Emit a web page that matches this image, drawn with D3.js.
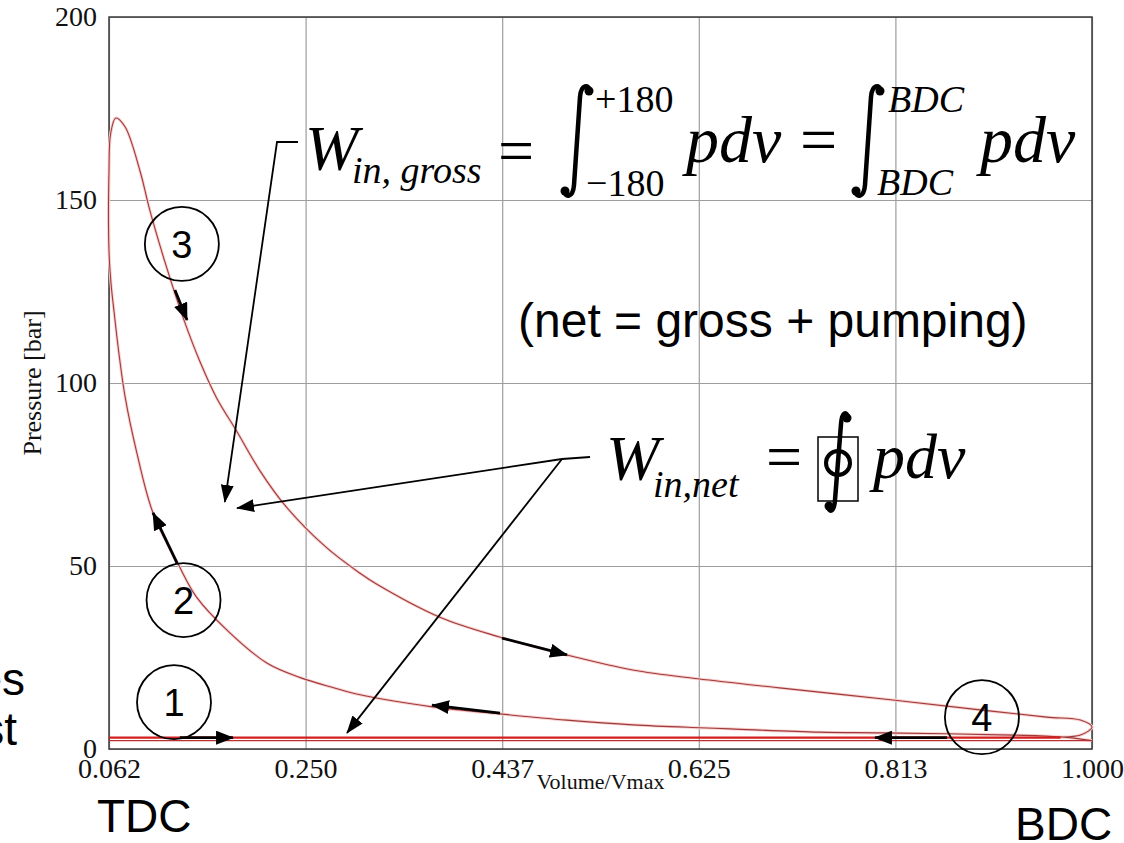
<!DOCTYPE html>
<html>
<head>
<meta charset="utf-8">
<script src="https://cdnjs.cloudflare.com/ajax/libs/d3/7.8.5/d3.min.js"></script>
<style>
body { margin: 0; background: #ffffff; }
</style>
</head>
<body>
<div id="chart"></div>
<script>
// axis ticks
var xTickValues = [0.0625, 0.25, 0.4375, 0.625, 0.8125, 1.0];
var xTickLabels = ['0.062', '0.250', '0.437', '0.625', '0.813', '1.000'];
var yTickValues = [0, 50, 100, 150, 200];

// p-V loop (volume / Vmax, pressure in bar)
var compressionV = [1.0, 0.97, 0.925, 0.80, 0.74, 0.655, 0.626, 0.562, 0.499, 0.435, 0.371, 0.302, 0.276, 0.245, 0.213, 0.175, 0.146, 0.128, 0.1045, 0.089, 0.078, 0.072, 0.0675, 0.0645, 0.0625];
var compressionP = [2.3, 3.3, 3.8, 4.4, 4.6, 5.5, 5.8, 6.6, 7.9, 9.6, 11.5, 14.8, 16.8, 19.5, 23.5, 32.5, 41.5, 50.8, 64.5, 81, 96, 108, 119, 127, 136];
var expansionV = [0.0625, 0.064, 0.069, 0.0778, 0.092, 0.1016, 0.117, 0.133, 0.149, 0.165, 0.185, 0.2065, 0.232, 0.270, 0.302, 0.318, 0.378, 0.435, 0.499, 0.562, 0.624, 0.702, 0.810, 0.893, 0.957, 0.989, 1.0];
var expansionP = [158, 168, 172.4, 170, 158, 147, 132, 118, 106, 96, 86.5, 76, 66, 55, 48, 45, 36, 30.6, 25.7, 21.6, 19.2, 16.7, 13.4, 10.7, 8.7, 7.9, 6.0];
var blowdownV = [0.989, 0.97];
var blowdownP = [3.8, 3.3];
var exhaustV = [0.97, 0.0625];
var exhaustP = [3.1, 3.1];
var intakeV = [0.0625, 1.0];
var intakeP = [2.3, 2.3];

// stroke labels: number, volume, pressure
var stageLabels = ['1', '2', '3', '4'];
var stageV = [0.1245, 0.1336, 0.132, 0.895];
var stageP = [12.8, 40.7, 138, 8.7];

// direction arrows along the loop: from (v0, p0) to tip (v1, p1)
var flowFromV = [0.130, 0.1274, 0.1254, 0.4373, 0.4354, 0.8617];
var flowFromP = [3.1, 50.8, 125.4, 30.3, 9.8, 3.1];
var flowToV = [0.1808, 0.1045, 0.1369, 0.4993, 0.3706, 0.793];
var flowToP = [3.1, 64.5, 117.2, 25.7, 12.0, 3.1];

// where the formula pointers land
var grossTipV = [0.173];
var grossTipP = [67.5];
var netTipV = [0.1846, 0.2895];
var netTipP = [65.8, 4.4];

var width = 1124;
var height = 843;
var plot = { left: 109, right: 1092, top: 17, bottom: 749 };

var serif = '"Liberation Serif", "Times New Roman", serif';
var sans = '"Liberation Sans", Arial, sans-serif';

var svg = d3.select('#chart').append('svg')
    .attr('width', width)
    .attr('height', height)
    .style('background', '#ffffff');

var x = d3.scaleLinear().domain([0.0625, 1.0]).range([plot.left, plot.right]);
var y = d3.scaleLinear().domain([0, 200]).range([plot.bottom, plot.top]);

// arrow heads
var defs = svg.append('defs');
defs.append('marker')
    .attr('id', 'head')
    .attr('markerUnits', 'userSpaceOnUse')
    .attr('markerWidth', 18).attr('markerHeight', 14)
    .attr('refX', 17).attr('refY', 7)
    .attr('orient', 'auto')
    .append('path').attr('d', 'M0,0 L18,7 L0,14 Z').attr('fill', '#000');
defs.append('marker')
    .attr('id', 'headThin')
    .attr('markerUnits', 'userSpaceOnUse')
    .attr('markerWidth', 18).attr('markerHeight', 13)
    .attr('refX', 17).attr('refY', 6.5)
    .attr('orient', 'auto')
    .append('path').attr('d', 'M0,0 L18,6.5 L0,13 Z').attr('fill', '#000');

/****************************
  * Grid and axes
  ***************************/

svg.append('g')
    .attr('transform', 'translate(0,' + plot.bottom + ')')
    .call(d3.axisBottom(x).tickValues(xTickValues).tickSize(-(plot.bottom - plot.top)).tickFormat(''))
    .call(function(g) { g.select('.domain').remove(); })
    .selectAll('line').attr('stroke', '#9d9d9d').attr('stroke-width', 1.2);

svg.append('g')
    .attr('transform', 'translate(' + plot.left + ',0)')
    .call(d3.axisLeft(y).tickValues(yTickValues).tickSize(-(plot.right - plot.left)).tickFormat(''))
    .call(function(g) { g.select('.domain').remove(); })
    .selectAll('line').attr('stroke', '#9d9d9d').attr('stroke-width', 1.2);

svg.append('rect')
    .attr('x', plot.left).attr('y', plot.top)
    .attr('width', plot.right - plot.left).attr('height', plot.bottom - plot.top)
    .attr('fill', 'none').attr('stroke', '#3a3a3a').attr('stroke-width', 1.5);

var xAxis = svg.append('g')
    .attr('transform', 'translate(0,' + plot.bottom + ')')
    .call(d3.axisBottom(x).tickValues(xTickValues).tickSize(0).tickPadding(9)
        .tickFormat(function(d, i) { return xTickLabels[i]; }));
var yAxis = svg.append('g')
    .attr('transform', 'translate(' + plot.left + ',0)')
    .call(d3.axisLeft(y).tickValues(yTickValues).tickSize(0).tickPadding(12));
[xAxis, yAxis].forEach(function(a) {
    a.select('.domain').remove();
    a.selectAll('text').attr('font-family', serif).attr('font-size', 28).attr('fill', '#111');
});

svg.append('text')
    .attr('x', (plot.left + plot.right) / 2).attr('y', 789)
    .attr('text-anchor', 'middle')
    .attr('font-family', serif).attr('font-size', 22).attr('fill', '#111')
    .text('Volume/Vmax');

svg.append('text')
    .attr('transform', 'translate(41,' + (plot.top + plot.bottom) / 2 + ') rotate(-90)')
    .attr('text-anchor', 'middle')
    .attr('font-family', serif).attr('font-size', 26).attr('fill', '#111')
    .text('Pressure [bar]');

/****************************
  * The p-V loop
  ***************************/

var line = d3.line()
    .x(function(d) { return x(d[0]); })
    .y(function(d) { return y(d[1]); })
    .curve(d3.curveCatmullRom.alpha(0.5));

var loop = d3.zip(compressionV, compressionP)
    .concat(d3.zip(expansionV, expansionP))
    .concat(d3.zip(blowdownV, blowdownP));

svg.append('path').attr('d', line(loop))
    .attr('fill', 'none').attr('stroke', '#f8d0d0').attr('stroke-width', 3);
svg.append('path').attr('d', line(loop))
    .attr('fill', 'none').attr('stroke', '#a03a3a').attr('stroke-width', 1.1);

svg.append('path').attr('d', line(d3.zip(intakeV, intakeP)))
    .attr('fill', 'none').attr('stroke', '#b83232').attr('stroke-width', 1.3);
svg.append('path').attr('d', line(d3.zip(exhaustV, exhaustP)))
    .attr('fill', 'none').attr('stroke', '#d41e1e').attr('stroke-width', 2.4);

// direction arrows on the loop
for (var i = 0; i < flowFromV.length; i++) {
    svg.append('line')
        .attr('x1', x(flowFromV[i])).attr('y1', y(flowFromP[i]))
        .attr('x2', x(flowToV[i])).attr('y2', y(flowToP[i]))
        .attr('stroke', '#000').attr('stroke-width', 2.8)
        .attr('marker-end', 'url(#head)');
}

// numbered strokes
for (var i = 0; i < stageLabels.length; i++) {
    svg.append('circle')
        .attr('cx', x(stageV[i])).attr('cy', y(stageP[i])).attr('r', 37)
        .attr('fill', 'none').attr('stroke', '#000').attr('stroke-width', 1.8);
    svg.append('text')
        .attr('x', x(stageV[i])).attr('y', y(stageP[i]) + 14)
        .attr('text-anchor', 'middle')
        .attr('font-family', sans).attr('font-size', 38).attr('fill', '#000')
        .text(stageLabels[i]);
}

/****************************
  * Formulas
  ***************************/

function addText(str, px, py, size, family, italic, anchor) {
    return svg.append('text')
        .attr('x', px).attr('y', py)
        .attr('font-family', family).attr('font-size', size)
        .attr('font-style', italic ? 'italic' : 'normal')
        .attr('text-anchor', anchor || 'start')
        .attr('fill', '#000')
        .text(str);
}

// integral sign drawn as a curled stroke
function drawIntegral(cx, top, bottom, spread) {
    var d = 'M' + (cx + spread + 1) + ',' + (top + 6) +
        ' C' + (cx + spread) + ',' + (top - 1) + ' ' + (cx + 4) + ',' + (top - 1) + ' ' + (cx + 3) + ',' + (top + 12) +
        ' L' + (cx - 3) + ',' + (bottom - 12) +
        ' C' + (cx - 4) + ',' + (bottom + 1) + ' ' + (cx - spread) + ',' + (bottom + 1) + ' ' + (cx - spread - 1) + ',' + (bottom - 6);
    svg.append('path').attr('d', d)
        .attr('fill', 'none').attr('stroke', '#000').attr('stroke-width', 4.5);
    svg.append('circle').attr('cx', cx + spread).attr('cy', top + 6).attr('r', 4.5).attr('fill', '#000');
    svg.append('circle').attr('cx', cx - spread).attr('cy', bottom - 6).attr('r', 4.5).attr('fill', '#000');
}

// W_in,gross
svg.append('polyline')
    .attr('points', '298,142 277,142 ' + x(grossTipV[0]) + ',' + y(grossTipP[0]))
    .attr('fill', 'none').attr('stroke', '#000').attr('stroke-width', 1.8)
    .attr('marker-end', 'url(#headThin)');
addText('W', 305, 170, 64, serif, true);
addText('in, gross', 352, 183, 38, serif, true);
addText('=', 498, 172, 64, serif, false);
drawIntegral(577, 85, 197, 12);
addText('+180', 595, 112, 38, serif, false);
addText('\u2212180', 586, 196, 38, serif, false);
addText('pdv', 686, 162, 66, serif, true);
addText('=', 800, 162, 66, serif, false);
drawIntegral(868, 85, 197, 12);
addText('BDC', 888, 112, 38, serif, true);
addText('BDC', 877, 195, 38, serif, true);
addText('pdv', 980, 162, 66, serif, true);

addText('(net = gross + pumping)', 518, 337, 48, sans, false);

// W_in,net
for (var i = 0; i < netTipV.length; i++) {
    svg.append('line')
        .attr('x1', 562).attr('y1', 459)
        .attr('x2', x(netTipV[i])).attr('y2', y(netTipP[i]))
        .attr('stroke', '#000').attr('stroke-width', 1.8)
        .attr('marker-end', 'url(#headThin)');
}
svg.append('line').attr('x1', 562).attr('y1', 459).attr('x2', 590).attr('y2', 457)
    .attr('stroke', '#000').attr('stroke-width', 1.8);
addText('W', 606, 480, 64, serif, true);
addText('in,net', 653, 497, 38, serif, true);
addText('=', 766, 478, 64, serif, false);
svg.append('rect').attr('x', 818).attr('y', 437).attr('width', 40).attr('height', 64)
    .attr('fill', 'none').attr('stroke', '#000').attr('stroke-width', 1.5);
drawIntegral(838, 412, 512, 9);
svg.append('circle').attr('cx', 838).attr('cy', 463).attr('r', 12)
    .attr('fill', 'none').attr('stroke', '#000').attr('stroke-width', 4);
addText('pdv', 873, 478, 64, serif, true);

/****************************
  * Slide text around the chart
  ***************************/

addText('es', 25, 695, 46, sans, false, 'end');
addText('st', 17, 745, 46, sans, false, 'end');
addText('TDC', 97, 832, 46, sans, false);
addText('BDC', 1015, 840, 46, sans, false);
</script>
</body>
</html>
